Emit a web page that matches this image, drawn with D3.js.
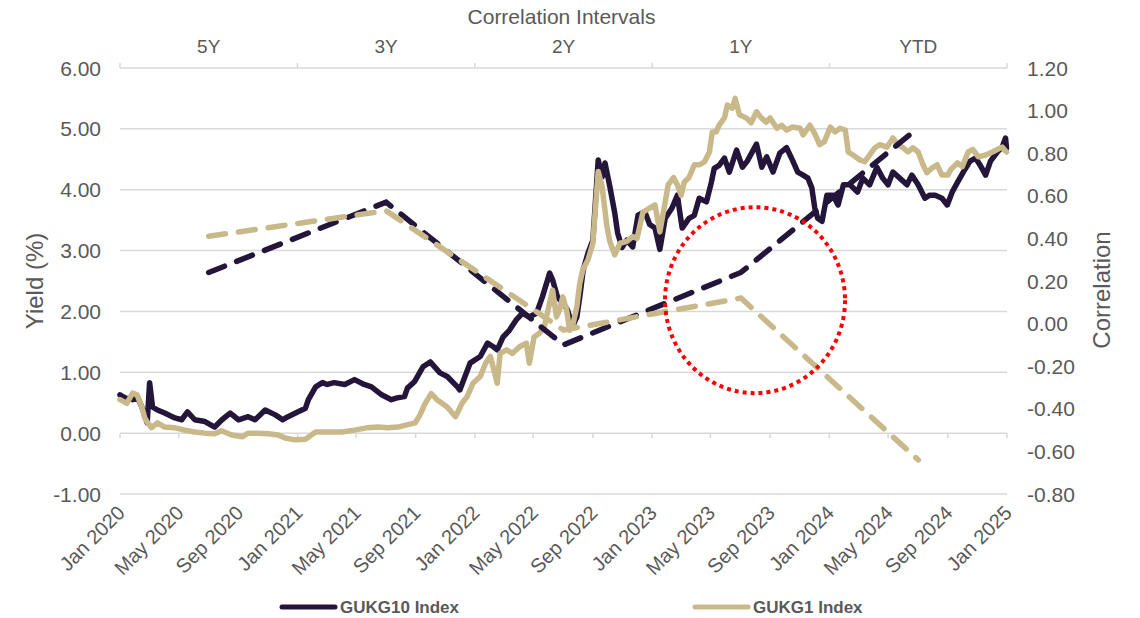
<!DOCTYPE html>
<html>
<head>
<meta charset="utf-8">
<script src="https://cdn.jsdelivr.net/npm/d3@7"></script>
<style>
  body { margin: 0; background: #fff; }
  svg { display: block; font-family: "Liberation Sans", Arial, sans-serif; }
</style>
</head>
<body>
<div id="chart"></div>
<script>
// ---- data ----
var xTickDates = ["2020-01-01","2020-05-01","2020-09-01","2021-01-01","2021-05-01","2021-09-01",
    "2022-01-01","2022-05-01","2022-09-01","2023-01-01","2023-05-01","2023-09-01",
    "2024-01-01","2024-05-01","2024-09-01","2025-01-01"];
var yieldTicks = [-1, 0, 1, 2, 3, 4, 5, 6];
var corrTicks = [-0.8, -0.6, -0.4, -0.2, 0, 0.2, 0.4, 0.6, 0.8, 1.0, 1.2];

var intervals = ["5Y", "3Y", "2Y", "1Y", "YTD"];
var corrGukg10 = [0.24, 0.57, -0.10, 0.24, 0.92];
var corrGukg1 = [0.41, 0.53, -0.03, 0.12, -0.64];

var gukg10 = [
  ["2020-01-01",0.63],["2020-01-11",0.58],["2020-01-27",0.55],["2020-02-07",0.58],["2020-02-15",0.43],
  ["2020-02-26",0.17],["2020-03-02",0.83],["2020-03-08",0.43],["2020-03-18",0.38],["2020-04-02",0.33],
  ["2020-04-23",0.25],["2020-05-07",0.22],["2020-05-19",0.35],["2020-06-03",0.22],["2020-06-24",0.19],
  ["2020-07-14",0.10],["2020-07-29",0.22],["2020-08-15",0.33],["2020-09-01",0.22],["2020-09-21",0.27],
  ["2020-10-05",0.22],["2020-10-26",0.38],["2020-11-16",0.30],["2020-12-01",0.22],["2020-12-12",0.27],
  ["2021-01-02",0.35],["2021-01-17",0.41],["2021-01-23",0.55],["2021-02-07",0.76],["2021-02-21",0.83],
  ["2021-03-03",0.80],["2021-03-17",0.83],["2021-04-08",0.80],["2021-04-28",0.88],["2021-05-18",0.80],
  ["2021-06-02",0.76],["2021-06-23",0.63],["2021-07-13",0.55],["2021-07-25",0.58],["2021-08-09",0.60],
  ["2021-08-15",0.74],["2021-08-30",0.85],["2021-09-16",1.09],["2021-10-01",1.17],["2021-10-21",0.99],
  ["2021-11-05",0.93],["2021-11-26",0.76],["2021-12-01",0.71],["2021-12-22",1.15],["2022-01-12",1.26],
  ["2022-01-27",1.48],["2022-02-08",1.42],["2022-02-16",1.37],["2022-02-28",1.58],["2022-03-13",1.69],
  ["2022-03-27",1.86],["2022-04-09",1.97],["2022-04-23",1.91],["2022-05-08",1.97],["2022-05-20",2.24],
  ["2022-06-04",2.63],["2022-06-10",2.52],["2022-06-20",2.24],["2022-07-01",2.14],["2022-07-11",2.02],
  ["2022-07-21",1.75],["2022-07-30",1.91],["2022-08-05",2.24],["2022-08-12",2.68],["2022-08-22",2.96],
  ["2022-09-01",3.17],["2022-09-12",4.49],["2022-09-20",4.21],["2022-09-26",4.44],["2022-10-06",4.05],
  ["2022-10-16",3.62],["2022-10-22",3.29],["2022-10-31",3.05],["2022-11-10",3.17],["2022-11-22",3.06],
  ["2022-12-03",3.58],["2022-12-17",3.64],["2022-12-27",3.43],["2023-01-07",3.37],["2023-01-17",3.02],
  ["2023-01-28",3.53],["2023-02-11",3.70],["2023-02-22",3.91],["2023-02-28",3.58],["2023-03-04",3.37],
  ["2023-03-18",3.53],["2023-03-29",3.58],["2023-04-08",3.86],["2023-04-23",3.80],["2023-05-03",4.12],
  ["2023-05-09",4.35],["2023-05-19",4.40],["2023-05-30",4.52],["2023-06-09",4.29],["2023-06-24",4.65],
  ["2023-07-06",4.37],["2023-07-16",4.47],["2023-08-04",4.75],["2023-08-15",4.37],["2023-08-25",4.54],
  ["2023-09-07",4.29],["2023-09-21",4.60],["2023-10-05",4.69],["2023-10-18",4.47],["2023-10-28",4.29],
  ["2023-11-08",4.24],["2023-11-18",4.19],["2023-11-26",4.03],["2023-12-02",3.70],["2023-12-08",3.53],
  ["2023-12-17",3.48],["2023-12-27",3.91],["2024-01-09",3.91],["2024-01-19",3.75],["2024-01-30",4.08],
  ["2024-02-13",4.08],["2024-02-28",3.96],["2024-03-10",4.19],["2024-03-24",4.08],["2024-04-08",4.37],
  ["2024-04-20",4.19],["2024-05-01",4.08],["2024-05-11",4.29],["2024-05-25",4.19],["2024-06-09",4.08],
  ["2024-06-19",4.24],["2024-07-02",4.08],["2024-07-16",3.86],["2024-07-26",3.91],["2024-08-06",3.91],
  ["2024-08-20",3.86],["2024-08-31",3.75],["2024-09-10",3.96],["2024-09-21",4.12],["2024-10-03",4.29],
  ["2024-10-17",4.47],["2024-10-28",4.52],["2024-11-07",4.40],["2024-11-18",4.24],["2024-11-28",4.47],
  ["2024-12-12",4.62],["2024-12-22",4.70],["2024-12-29",4.85],["2024-12-31",4.68]
];

var gukg1 = [
  ["2020-01-01",0.55],["2020-01-15",0.49],["2020-01-27",0.66],["2020-02-05",0.63],["2020-02-15",0.43],
  ["2020-02-21",0.25],["2020-02-27",0.17],["2020-03-06",0.09],["2020-03-18",0.17],["2020-04-02",0.10],
  ["2020-04-22",0.09],["2020-05-13",0.05],["2020-06-03",0.02],["2020-06-24",0.00],["2020-07-14",-0.01],
  ["2020-07-28",0.04],["2020-08-18",-0.03],["2020-09-09",-0.06],["2020-09-21",0.00],["2020-10-11",0.00],
  ["2020-11-01",-0.01],["2020-11-22",-0.03],["2020-12-06",-0.08],["2020-12-27",-0.11],["2021-01-17",-0.10],
  ["2021-02-07",0.02],["2021-03-03",0.02],["2021-04-02",0.02],["2021-04-28",0.05],["2021-05-25",0.09],
  ["2021-06-15",0.10],["2021-07-05",0.09],["2021-07-26",0.10],["2021-08-16",0.14],["2021-08-31",0.17],
  ["2021-09-10",0.30],["2021-09-20",0.48],["2021-10-03",0.65],["2021-10-15",0.55],["2021-11-05",0.43],
  ["2021-11-22",0.27],["2021-12-06",0.50],["2021-12-16",0.60],["2021-12-28",0.82],["2022-01-12",0.93],
  ["2022-01-23",1.15],["2022-02-02",1.26],["2022-02-16",0.82],["2022-02-22",1.31],["2022-03-07",1.37],
  ["2022-03-19",1.31],["2022-04-03",1.42],["2022-04-17",1.48],["2022-04-23",1.15],["2022-05-03",1.58],
  ["2022-05-14",1.64],["2022-05-24",1.75],["2022-06-04",2.14],["2022-06-10",2.35],["2022-06-18",1.91],
  ["2022-06-24",2.02],["2022-07-01",2.24],["2022-07-09",2.02],["2022-07-15",1.69],["2022-07-21",1.75],
  ["2022-07-30",2.08],["2022-08-05",2.46],["2022-08-11",2.68],["2022-08-22",2.85],["2022-09-01",3.12],
  ["2022-09-12",4.30],["2022-09-20",4.05],["2022-09-30",3.39],["2022-10-06",3.15],["2022-10-16",2.93],
  ["2022-10-27",3.12],["2022-11-10",3.15],["2022-11-22",3.23],["2022-12-01",3.20],["2022-12-13",3.63],
  ["2022-12-27",3.70],["2023-01-07",3.75],["2023-01-17",3.31],["2023-01-28",3.80],["2023-02-03",4.08],
  ["2023-02-14",4.20],["2023-02-22",4.08],["2023-03-02",3.91],["2023-03-08",4.12],["2023-03-18",4.20],
  ["2023-03-29",4.41],["2023-04-09",4.41],["2023-04-19",4.46],["2023-04-29",4.62],["2023-05-05",4.95],
  ["2023-05-13",4.95],["2023-05-19",5.06],["2023-05-30",5.18],["2023-06-05",5.39],["2023-06-15",5.34],
  ["2023-06-21",5.50],["2023-06-30",5.23],["2023-07-14",5.18],["2023-07-24",5.10],["2023-08-04",5.28],
  ["2023-08-14",5.18],["2023-08-24",5.11],["2023-09-01",5.18],["2023-09-15",5.01],["2023-09-25",5.06],
  ["2023-10-05",4.98],["2023-10-17",5.03],["2023-11-02",5.01],["2023-11-08",4.90],["2023-11-22",5.06],
  ["2023-12-02",4.92],["2023-12-12",4.74],["2023-12-22",4.79],["2024-01-03",5.03],["2024-01-13",4.95],
  ["2024-01-23",5.01],["2024-02-03",4.98],["2024-02-09",4.62],["2024-02-19",4.57],["2024-03-04",4.49],
  ["2024-03-14",4.46],["2024-03-24",4.57],["2024-04-04",4.69],["2024-04-14",4.74],["2024-04-29",4.70],
  ["2024-05-11",4.85],["2024-05-21",4.74],["2024-06-01",4.69],["2024-06-11",4.62],["2024-06-21",4.69],
  ["2024-07-02",4.62],["2024-07-12",4.41],["2024-07-20",4.28],["2024-07-31",4.36],["2024-08-10",4.41],
  ["2024-08-20",4.24],["2024-09-01",4.24],["2024-09-07",4.33],["2024-09-21",4.44],["2024-10-01",4.38],
  ["2024-10-13",4.62],["2024-10-23",4.66],["2024-11-03",4.54],["2024-11-18",4.57],["2024-12-02",4.62],
  ["2024-12-12",4.66],["2024-12-22",4.70],["2024-12-31",4.62]
];

function drawChart() {
    var width = 1140, height = 618;
    var plotL = 120, plotR = 1007, plotT = 68, plotB = 494;
    var dark = "#24163a", tan = "#c9b98a", grey = "#595959", grid = "#d9d9d9";

    var parse = d3.timeParse("%Y-%m-%d");
    var fmt = d3.timeFormat("%b %Y");

    var svg = d3.select("#chart").append("svg")
        .attr("width", width)
        .attr("height", height);

    var x = d3.scaleTime().domain([parse("2020-01-01"), parse("2025-01-01")]).range([plotL, plotR]);
    var yL = d3.scaleLinear().domain([-1, 6]).range([plotB, plotT]);
    var yR = d3.scaleLinear().domain([-0.8, 1.2]).range([plotB, plotT]);
    var band = d3.scaleBand().domain(intervals).range([plotL, plotR]).padding(0);

    //===== gridlines =====
    svg.append("g").selectAll("line").data(yieldTicks)
        .enter().append("line")
        .attr("x1", plotL).attr("x2", plotR)
        .attr("y1", function(d){ return yL(d); })
        .attr("y2", function(d){ return yL(d); })
        .attr("stroke", grid).attr("stroke-width", 1.5);

    //===== left / right axis labels =====
    svg.append("g").selectAll("text").data(yieldTicks)
        .enter().append("text")
        .attr("x", 101)
        .attr("y", function(d){ return yL(d); })
        .attr("dy", "0.36em")
        .attr("text-anchor", "end")
        .attr("font-size", 21).attr("fill", grey)
        .text(function(d){ return d.toFixed(2); });

    svg.append("g").selectAll("text").data(corrTicks)
        .enter().append("text")
        .attr("x", 1027)
        .attr("y", function(d){ return yR(d); })
        .attr("dy", "0.36em")
        .attr("font-size", 21).attr("fill", grey)
        .text(function(d){ return d.toFixed(2); });

    //===== x axis on the zero line, ticks down =====
    var xTicks = xTickDates.map(parse);
    svg.append("g").selectAll("line").data(xTicks)
        .enter().append("line")
        .attr("x1", function(d){ return x(d); }).attr("x2", function(d){ return x(d); })
        .attr("y1", yL(0)).attr("y2", yL(0) + 5)
        .attr("stroke", grid).attr("stroke-width", 1.5);

    svg.append("g").selectAll("text").data(xTicks)
        .enter().append("text")
        .attr("transform", function(d){ return "translate(" + (x(d) + 1) + ",509) rotate(-45)"; })
        .attr("text-anchor", "end")
        .attr("dy", "0.36em")
        .attr("font-size", 20).attr("fill", grey)
        .text(function(d){ return fmt(d); });

    //===== top interval axis =====
    var bounds = intervals.map(function(d){ return band(d); }).concat([plotR]);
    svg.append("g").selectAll("line").data(bounds)
        .enter().append("line")
        .attr("x1", function(d){ return d; }).attr("x2", function(d){ return d; })
        .attr("y1", plotT).attr("y2", plotT - 5)
        .attr("stroke", grid).attr("stroke-width", 1.5);

    svg.append("g").selectAll("text").data(intervals)
        .enter().append("text")
        .attr("x", function(d){ return band(d) + band.bandwidth() / 2; })
        .attr("y", 53)
        .attr("text-anchor", "middle")
        .attr("font-size", 19).attr("fill", grey)
        .text(function(d){ return d; });

    svg.append("text")
        .attr("x", (plotL + plotR) / 2 - 2).attr("y", 24)
        .attr("text-anchor", "middle")
        .attr("font-size", 21).attr("fill", grey)
        .text("Correlation Intervals");

    //===== axis titles =====
    svg.append("text")
        .attr("transform", "translate(43,281) rotate(-90)")
        .attr("text-anchor", "middle")
        .attr("font-size", 24).attr("fill", grey)
        .text("Yield (%)");

    svg.append("text")
        .attr("transform", "translate(1110,290) rotate(-90)")
        .attr("text-anchor", "middle")
        .attr("font-size", 24).attr("fill", grey)
        .text("Correlation");

    //===== yield series =====
    var line = d3.line()
        .x(function(d){ return x(parse(d[0])); })
        .y(function(d){ return yL(d[1]); });

    svg.append("path").datum(gukg10)
        .attr("d", line)
        .attr("fill", "none").attr("stroke", dark)
        .attr("stroke-width", 5.5).attr("stroke-linejoin", "round")
        .attr("stroke-linecap", "round");

    svg.append("path").datum(gukg1)
        .attr("d", line)
        .attr("fill", "none").attr("stroke", tan)
        .attr("stroke-width", 5.5).attr("stroke-linejoin", "round")
        .attr("stroke-linecap", "round");

    //===== correlation per interval, dashed =====
    var corrLine = d3.line()
        .x(function(d, i){ return band(intervals[i]) + band.bandwidth() / 2; })
        .y(function(d){ return yR(d); });

    svg.append("path").datum(corrGukg10)
        .attr("d", corrLine)
        .attr("fill", "none").attr("stroke", dark)
        .attr("stroke-width", 5.5).attr("stroke-dasharray", "17,13")
        .attr("stroke-linecap", "round");

    svg.append("path").datum(corrGukg1)
        .attr("d", corrLine)
        .attr("fill", "none").attr("stroke", tan)
        .attr("stroke-width", 5.5).attr("stroke-dasharray", "17,13")
        .attr("stroke-linecap", "round");

    //===== red dotted highlight around the 1Y break =====
    svg.append("ellipse")
        .attr("cx", x(parse("2023-08-01")))
        .attr("cy", yR(0.11))
        .attr("rx", 90).attr("ry", 93)
        .attr("fill", "none").attr("stroke", "#ff0000")
        .attr("stroke-width", 4).attr("stroke-dasharray", "4,4");

    //===== legend =====
    var legend = [["GUKG10 Index", dark, 282], ["GUKG1 Index", tan, 695]];
    var lg = svg.append("g").selectAll("g").data(legend)
        .enter().append("g")
        .attr("transform", function(d){ return "translate(" + d[2] + ",607)"; });
    lg.append("line")
        .attr("x1", 0).attr("x2", 53)
        .attr("stroke", function(d){ return d[1]; })
        .attr("stroke-width", 5).attr("stroke-linecap", "round");
    lg.append("text")
        .attr("x", 58).attr("dy", "0.36em")
        .attr("font-size", 17).attr("font-weight", "bold").attr("fill", grey)
        .text(function(d){ return d[0]; });
}
drawChart();
</script>
</body>
</html>
